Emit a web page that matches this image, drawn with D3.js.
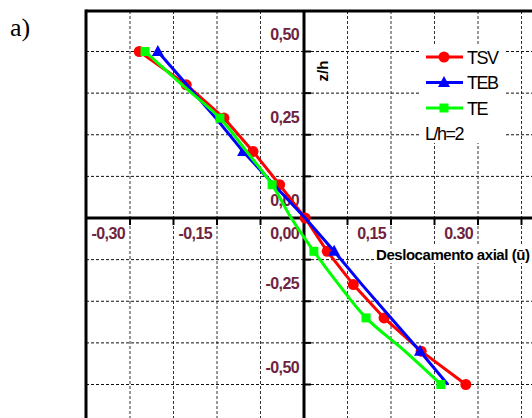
<!DOCTYPE html>
<html>
<head>
<meta charset="utf-8">
<script src="https://cdn.jsdelivr.net/npm/d3@7"></script>
<style>
  body { margin: 0; background: #fff; }
  text { font-family: "Liberation Sans", Arial, sans-serif; }
</style>
</head>
<body>
<div id="chart"></div>
<script>
// z/h levels and axial displacement for each theory
var zh  = [0.5, 0.4, 0.3, 0.2, 0.1, 0, -0.1, -0.2, -0.3, -0.4, -0.5];
var tsv = [-0.284, -0.203, -0.138, -0.088, -0.042, 0.002, 0.040, 0.085, 0.138, 0.202, 0.279];
var teb = [-0.252, -0.202, -0.152, -0.105, -0.052, 0.002, 0.052, 0.100, 0.150, 0.200, 0.248];
var te  = [-0.274, -0.210, -0.145, -0.099, -0.055, -0.022, 0.017, 0.060, 0.107, 0.174, 0.236];

var xTickVals = [-0.30, -0.15, 0, 0.15, 0.30];
var xTickText = ["-0,30", "-0,15", "0,00", "0,15", "0.30"];
var yTickVals = [0.5, 0.25, 0, -0.25, -0.5];
var yTickText = ["0,50", "0,25", "0,00", "-0,25", "-0,50"];

var series = [
  {name: "TSV", vals: tsv, color: "#ff0000", shape: "circle", every: 1, curve: d3.curveLinear},
  {name: "TEB", vals: teb, color: "#0000ff", shape: "triangle", every: 3, curve: d3.curveLinear},
  {name: "TE",  vals: te,  color: "#00ff00", shape: "square", every: 2, curve: d3.curveCatmullRom}
];

var width = 532, height = 418;
var fl = 86, ft = 11, fr = 620, fb = 460;   // plot frame (runs off the page right/bottom)
var labelColor = "#6e2340";

var svg = d3.select("#chart").append("svg")
  .attr("width", width)
  .attr("height", height);

var x = d3.scaleLinear().domain([-0.3, 0.3]).range([130, 478]);
var y = d3.scaleLinear().domain([-0.5, 0.5]).range([384.5, 51.5]);

svg.append("text").attr("x", 10).attr("y", 36)
  .style("font-family", "'Liberation Serif', serif").style("font-size", "26px")
  .text("a)");

// dashed grid
var xGrid = d3.range(-4, 7).map(function(i) { return i * 0.075; }).filter(function(v) { return Math.abs(v) > 1e-9; });
var yGrid = d3.range(-5, 5).map(function(i) { return i * 0.125; }).filter(function(v) { return Math.abs(v) > 1e-9; });

svg.append("g").selectAll("line").data(xGrid).enter().append("line")
  .attr("x1", function(d) { return x(d); }).attr("x2", function(d) { return x(d); })
  .attr("y1", ft).attr("y2", fb)
  .attr("stroke", "#333").attr("stroke-width", 1).attr("stroke-dasharray", "3,2");
svg.append("g").selectAll("line").data(yGrid).enter().append("line")
  .attr("x1", fl).attr("x2", fr)
  .attr("y1", function(d) { return y(d); }).attr("y2", function(d) { return y(d); })
  .attr("stroke", "#111").attr("stroke-width", 1).attr("stroke-dasharray", "3,2");

// frame
svg.append("line").attr("x1", fl).attr("x2", fl).attr("y1", ft - 1.5).attr("y2", fb)
  .attr("stroke", "#000").attr("stroke-width", 3);
svg.append("line").attr("x1", fl).attr("x2", fr).attr("y1", ft).attr("y2", ft)
  .attr("stroke", "#000").attr("stroke-width", 3);

// axes through the origin
svg.append("line").attr("x1", fl).attr("x2", fr).attr("y1", y(0)).attr("y2", y(0))
  .attr("stroke", "#000").attr("stroke-width", 3);
svg.append("line").attr("x1", x(0)).attr("x2", x(0)).attr("y1", ft).attr("y2", fb)
  .attr("stroke", "#000").attr("stroke-width", 3);

svg.append("g").selectAll("line").data(xGrid).enter().append("line")
  .attr("x1", function(d) { return x(d); }).attr("x2", function(d) { return x(d); })
  .attr("y1", y(0)).attr("y2", y(0) + 7)
  .attr("stroke", "#000").attr("stroke-width", 2);
svg.append("g").selectAll("line").data(yGrid).enter().append("line")
  .attr("x1", x(0)).attr("x2", x(0) + 7)
  .attr("y1", function(d) { return y(d); }).attr("y2", function(d) { return y(d); })
  .attr("stroke", "#000").attr("stroke-width", 2);

// tick labels (offset from their ticks as in the original)
svg.append("g").selectAll("text").data(xTickVals).enter().append("text")
  .attr("x", function(d) { return x(d) - 5; }).attr("y", y(0) + 21)
  .attr("text-anchor", "end")
  .style("font-size", "16px").style("font-weight", "bold").style("letter-spacing", "-0.6px").style("fill", labelColor)
  .text(function(d, i) { return xTickText[i]; });
svg.append("g").selectAll("text").data(yTickVals).enter().append("text")
  .attr("x", x(0) - 5).attr("y", function(d) { return y(d) - 12; })
  .attr("text-anchor", "end")
  .style("font-size", "16px").style("font-weight", "bold").style("letter-spacing", "-0.6px").style("fill", labelColor)
  .text(function(d, i) { return yTickText[i]; });

// axis titles
var xtg = svg.append("g");
var xt = xtg.append("text").attr("x", 376).attr("y", 260)
  .style("font-size", "15px").style("font-weight", "bold").style("letter-spacing", "-0.45px")
  .text("Deslocamento axial (ū)");
var bb = xt.node().getBBox();
xtg.insert("rect", "text")
  .attr("x", bb.x - 2).attr("y", bb.y).attr("width", bb.width + 4).attr("height", bb.height)
  .attr("fill", "#fff");

svg.append("text").attr("transform", "translate(328,71) rotate(-90)")
  .attr("text-anchor", "middle")
  .style("font-size", "15px").style("font-weight", "bold")
  .text("z/h");

function marker(g, shape, color, cx, cy) {
  if (shape === "circle") {
    g.append("circle").attr("cx", cx).attr("cy", cy).attr("r", 5.5).attr("fill", color);
  } else if (shape === "triangle") {
    g.append("path").attr("transform", "translate(" + cx + "," + cy + ")")
      .attr("d", "M0,-6.5L6,4.5L-6,4.5Z").attr("fill", color);
  } else {
    g.append("rect").attr("x", cx - 4.5).attr("y", cy - 4.5).attr("width", 9).attr("height", 9).attr("fill", color);
  }
}

// curves
series.forEach(function(s) {
  var pts = zh.map(function(z, i) { return [s.vals[i], z]; });
  var line = d3.line().x(function(d) { return x(d[0]); }).y(function(d) { return y(d[1]); }).curve(s.curve);
  var g = svg.append("g");
  g.append("path").attr("d", line(pts)).attr("fill", "none")
    .attr("stroke", s.color).attr("stroke-width", 3);
  pts.forEach(function(p, i) {
    if (i % s.every === 0) marker(g, s.shape, s.color, x(p[0]), y(p[1]));
  });
});

// legend
var lg = svg.append("g");
lg.append("rect").attr("x", 420).attr("y", 44).attr("width", 86).attr("height", 99).attr("fill", "#fff");
series.forEach(function(s, i) {
  var ly = 57 + i * 25.5;
  lg.append("line").attr("x1", 426).attr("x2", 463).attr("y1", ly).attr("y2", ly)
    .attr("stroke", s.color).attr("stroke-width", 3);
  marker(lg, s.shape, s.color, 444, ly);
  lg.append("text").attr("x", 467).attr("y", ly + 6.5)
    .style("font-size", "18px").style("letter-spacing", "-1.5px")
    .text(s.name);
});
lg.append("text").attr("x", 425).attr("y", 140)
  .style("font-size", "18px").style("letter-spacing", "-1.5px")
  .text("L/h=2");
</script>
</body>
</html>
